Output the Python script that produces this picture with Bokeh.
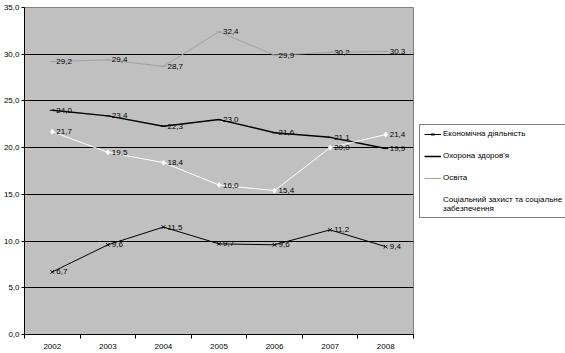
from bokeh.plotting import figure
from bokeh.models import Range1d, FixedTicker, Legend, LegendItem, ColumnDataSource
from bokeh.core.properties import value
from bokeh.embed import file_html
from bokeh.resources import INLINE

years = [2002, 2003, 2004, 2005, 2006, 2007, 2008]
year_labels = ["2002", "2003", "2004", "2005", "2006", "2007", "2008"]
econ = [6.7, 9.6, 11.5, 9.7, 9.6, 11.2, 9.4]
health = [24.0, 23.4, 22.3, 23.0, 21.6, 21.1, 19.9]
edu = [29.2, 29.4, 28.7, 32.4, 29.9, 30.2, 30.3]
social = [21.7, 19.5, 18.4, 16.0, 15.4, 20.0, 21.4]
y_ticks = [0, 5, 10, 15, 20, 25, 30, 35]
y_tick_labels = ["0,0", "5,0", "10,0", "15,0", "20,0", "25,0", "30,0", "35,0"]
names = ["Економічна діяльність", "Охорона здоров'я", "Освіта",
         "Соціальний захист та соціальне\nзабезпечення"]

FONT = "Liberation Sans"

p = figure(frame_width=389, frame_height=327, output_backend="svg", toolbar_location=None,
           min_border_left=24, min_border_right=152, min_border_top=7, min_border_bottom=19)
p.x_range = Range1d(years[0] - 0.5, years[-1] + 0.5)
p.y_range = Range1d(0, 35)
p.background_fill_color = "#C0C0C0"
p.border_fill_color = "white"
p.outline_line_color = "#808080"
p.outline_line_width = 1

# axes
p.xaxis.ticker = FixedTicker(ticks=years, minor_ticks=[y - 0.5 for y in years] + [years[-1] + 0.5])
p.xaxis.major_label_overrides = {y: l for y, l in zip(years, year_labels)}
p.xaxis.major_tick_out = 0
p.xaxis.major_tick_in = 0
p.xaxis.minor_tick_out = 4
p.xaxis.minor_tick_in = 0
p.yaxis.ticker = FixedTicker(ticks=y_ticks)
p.yaxis.major_label_overrides = {t: l for t, l in zip(y_ticks, y_tick_labels)}
p.yaxis.major_tick_out = 3
p.yaxis.major_tick_in = 0
p.yaxis.minor_tick_out = 0
p.yaxis.minor_tick_in = 0
for ax in (p.xaxis, p.yaxis):
    ax.axis_line_color = "black"
    ax.major_tick_line_color = "black"
    ax.minor_tick_line_color = "black"
    ax.major_label_text_font = FONT
    ax.major_label_text_font_size = "8px"
    ax.major_label_text_color = "black"
    ax.major_label_standoff = 2
p.xaxis.major_label_standoff = 5

p.xgrid.visible = False
p.ygrid.ticker = FixedTicker(ticks=y_ticks[1:-1])
p.ygrid.grid_line_color = "black"
p.ygrid.grid_line_width = 1

series = [
    (econ, "black", 1, "x", "black", None),
    (health, "black", 1.5, "dash", "black", None),
    (edu, "#A0A0A0", 1, "dash", "#A0A0A0", None),
    (social, "white", 1, "diamond", "white", "white"),
]

items = []
for (vals, col, lw, mk, mcol, fill), name in zip(series, names):
    labels = [f"{v:.1f}".replace(".", ",") for v in vals]
    src = ColumnDataSource(dict(x=years, y=vals, lab=labels))
    r1 = p.line("x", "y", source=src, line_color=col, line_width=lw)
    r2 = p.scatter("x", "y", source=src, marker=mk, size=5, line_color=mcol,
                   fill_color=fill if fill else mcol, line_width=1)
    p.text("x", "y", text="lab", source=src, x_offset=4, y_offset=0,
           text_font=value(FONT), text_font_size="8px", text_color="black",
           text_align="left", text_baseline="middle")
    items.append(LegendItem(label=name, renderers=[r1, r2]))

legend = Legend(items=items, location="center_left")
legend.label_text_font = FONT
legend.label_text_font_size = "8px"
legend.label_text_color = "black"
legend.glyph_width = 17
legend.glyph_height = 10
legend.spacing = 12
legend.padding = 4
legend.margin = 6
legend.label_standoff = 2
legend.border_line_color = "black"
legend.border_line_width = 1
legend.background_fill_color = "white"
legend.background_fill_alpha = 1
legend.label_height = 10
p.add_layout(legend, "right")

open("out.html", "w").write(file_html(p, INLINE))
